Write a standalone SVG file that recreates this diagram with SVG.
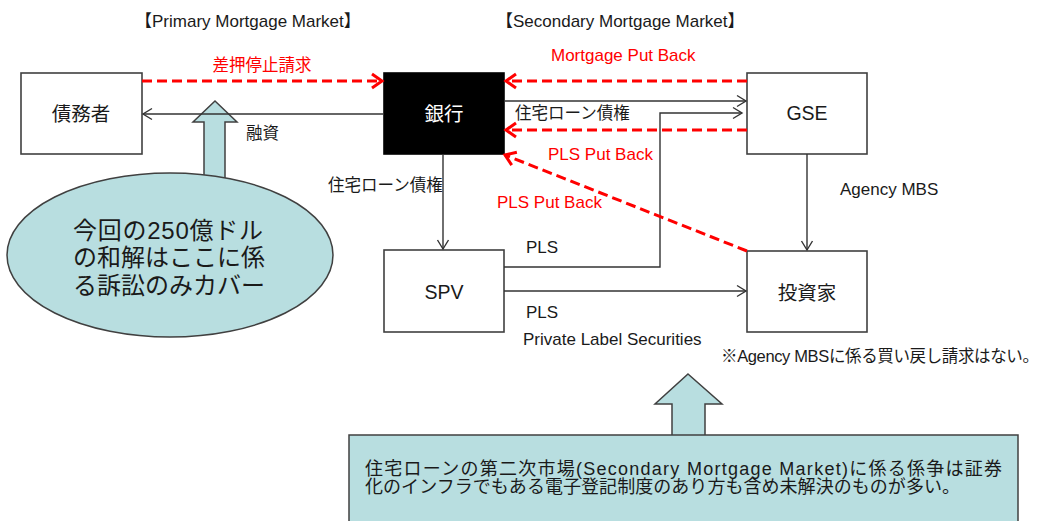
<svg xmlns="http://www.w3.org/2000/svg" width="1043" height="521" viewBox="0 0 1043 521">
<style>
text{font-family:"Liberation Sans","Noto Sans CJK JP",sans-serif;fill:#1a1a1a}
.node{fill:#fff;stroke:#404040;stroke-width:1.6}
.nt{font-size:19.5px;text-anchor:middle}
.lbl{font-size:17px}
.cj{font-size:16.5px}
.ttl{font-size:17px}
.red{fill:#ff0000}
.blk{fill:none;stroke:#333;stroke-width:1.4}
.rd{fill:none;stroke:#ff0000;stroke-width:3;stroke-dasharray:10 5}
.callout{fill:#b8dee0;stroke:#404040;stroke-width:1.5}
</style>
<defs>
<marker id="ab" markerUnits="userSpaceOnUse" viewBox="-12 -8 14 16" refX="0" refY="0" markerWidth="14" markerHeight="16" orient="auto">
<path d="M-9,-5.5 L0,0 L-9,5.5" fill="none" stroke="#333" stroke-width="1.4"/>
</marker>
<marker id="ar" markerUnits="userSpaceOnUse" viewBox="-14 -10 18 20" refX="0" refY="0" markerWidth="18" markerHeight="20" orient="auto">
<path d="M-10,-7 L0,0 L-10,7" fill="none" stroke="#ff0000" stroke-width="3" stroke-dasharray="none"/>
</marker>
</defs>
<rect width="1043" height="521" fill="#fff"/>
<text class="ttl" x="135" y="27">【Primary Mortgage Market】</text>
<text class="ttl" x="496" y="27">【Secondary Mortgage Market】</text>
<g id="callout-left">
<polygon class="callout" points="215,101 237,122 225,122 225,180 204,180 204,122 193,122"/>
<ellipse class="callout" cx="170" cy="255" rx="163" ry="82"/>
<text x="73" y="239" font-size="24" textLength="190">今回の250億ドル</text>
<text x="73" y="266" font-size="24">の和解はここに係</text>
<text x="73" y="294" font-size="24">る訴訟のみカバー</text>
</g>
<g id="callout-bottom">
<polygon class="callout" points="688,374 722,404 705,404 705,440 672,440 672,404 655,404"/>
<rect class="callout" x="349" y="435" width="669" height="100"/>
<text x="365" y="475" font-size="18" textLength="637">住宅ローンの第二次市場(Secondary Mortgage Market)に係る係争は証券</text>
<text x="365" y="493" font-size="18" textLength="595">化のインフラでもある電子登記制度のあり方も含め未解決のものが多い。</text>
</g>
<g id="node-debtor">
<rect class="node" x="21" y="73" width="121" height="81"/>
<text class="nt" x="81" y="121">債務者</text>
</g>
<g id="node-bank">
<rect x="384" y="73" width="120" height="81" fill="#000" stroke="#000" stroke-width="1.6"/>
<text class="nt" x="444" y="121" style="fill:#fff">銀行</text>
</g>
<g id="node-gse">
<rect class="node" x="747" y="73" width="120" height="81"/>
<text class="nt" x="807" y="120">GSE</text>
</g>
<g id="node-spv">
<rect class="node" x="384" y="250" width="120" height="82"/>
<text class="nt" x="444" y="299">SPV</text>
</g>
<g id="node-investor">
<rect class="node" x="747" y="251" width="120" height="81"/>
<text class="nt" x="807" y="300">投資家</text>
</g>
<g id="connectors">
<path class="rd" d="M142,81 L382,81" marker-end="url(#ar)"/>
<path class="blk" d="M384,114 L143,114" marker-end="url(#ab)"/>
<path class="rd" d="M747,81 L506,81" marker-end="url(#ar)"/>
<path class="blk" d="M504,101 L746,101" marker-end="url(#ab)"/>
<path class="blk" d="M504,267 L660,267 L660,113 L742,113" marker-end="url(#ab)"/>
<path class="rd" d="M747,130 L506,130" marker-end="url(#ar)"/>
<path class="rd" d="M747,251 L505,155" marker-end="url(#ar)"/>
<path class="blk" d="M443,154 L443,249" marker-end="url(#ab)"/>
<path class="blk" d="M504,291 L746,291" marker-end="url(#ab)"/>
<path class="blk" d="M807,154 L807,250" marker-end="url(#ab)"/>
</g>
<g id="labels">
<text class="cj red" x="262" y="71" text-anchor="middle">差押停止請求</text>
<text class="cj" x="246" y="139">融資</text>
<text class="lbl red" x="551" y="61">Mortgage Put Back</text>
<text class="cj" x="515" y="119">住宅ローン債権</text>
<text class="lbl red" x="548" y="160">PLS Put Back</text>
<text class="lbl red" x="497" y="208">PLS Put Back</text>
<text class="cj" x="328" y="191">住宅ローン債権</text>
<text class="lbl" x="526" y="253">PLS</text>
<text class="lbl" x="526" y="318">PLS</text>
<text class="lbl" x="523" y="345">Private Label Securities</text>
<text class="lbl" x="840" y="195">Agency MBS</text>
<text x="721" y="362" font-size="16.5" textLength="318">※Agency MBSに係る買い戻し請求はない。</text>
</g>
</svg>
